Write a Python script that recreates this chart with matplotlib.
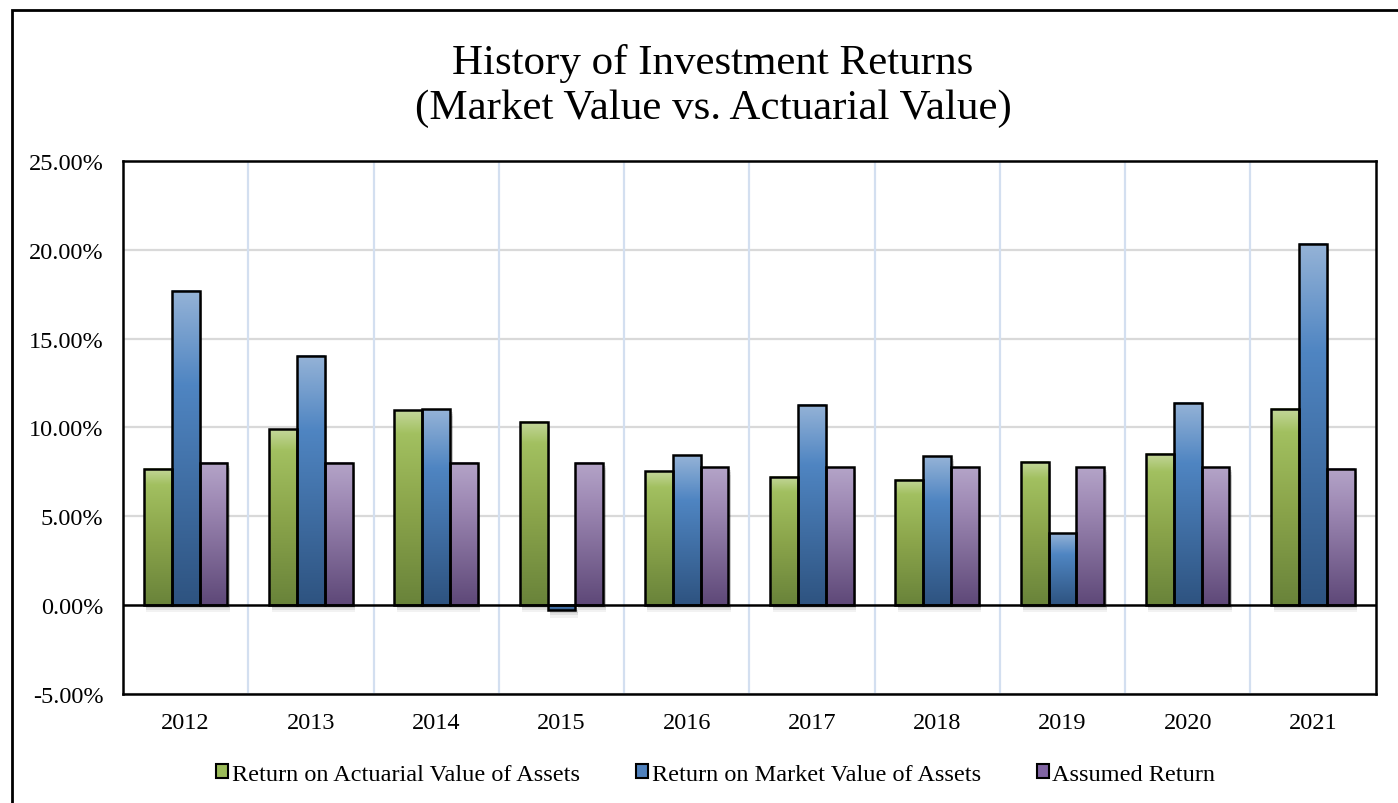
import numpy as np
import matplotlib
matplotlib.use("Agg")
import matplotlib.pyplot as plt
from matplotlib.colors import LinearSegmentedColormap
from matplotlib.patches import Rectangle, Patch
from matplotlib.ticker import FuncFormatter, MultipleLocator

plt.rcParams['font.family'] = ['Liberation Serif', 'DejaVu Serif']

# data
years = ['2012', '2013', '2014', '2015', '2016', '2017', '2018', '2019', '2020', '2021']
actuarial = [7.66, 9.89, 10.96, 10.30, 7.53, 7.22, 7.04, 8.05, 8.50, 11.04]
market = [17.70, 14.02, 11.02, -0.30, 8.43, 11.26, 8.37, 4.04, 11.37, 20.34]
assumed = [8.00, 8.00, 8.00, 8.00, 7.75, 7.75, 7.75, 7.75, 7.75, 7.67]

names = ['Return on Actuarial Value of Assets', 'Return on Market Value of Assets', 'Assumed Return']
series = [actuarial, market, assumed]
# gradient stops, top -> bottom
grads = [
    [(0, '#c4d79b'), (0.12, '#a2c060'), (0.5, '#8ba54b'), (1, '#69833a')],
    [(0, '#95b3d7'), (0.3, '#4f85c2'), (1, '#2e5380')],
    [(0, '#b4a4c8'), (0.3, '#9d88b3'), (1, '#5e4878')],
]
legend_cols = ['#9bbb59', '#4f81bd', '#8064a2']

fig = plt.figure(figsize=(13.98, 8.04), dpi=100)
ax = fig.add_axes([0.088, 0.1356, 0.896, 0.663])

n = len(years)
x = np.arange(n)
w = 1 / 4.5

grad = np.linspace(0, 1, 256).reshape(-1, 1)
for k, vals in enumerate(series):
    cmap = LinearSegmentedColormap.from_list('g%d' % k, grads[k])
    for i, v in enumerate(vals):
        x0 = x[i] + (k - 1) * w - w / 2
        lo, hi = min(0, v), max(0, v)
        # soft shadow
        for s, a in [(0.4, 0.05), (0.28, 0.07), (0.16, 0.09)]:
            ax.add_patch(Rectangle((x0 + 0.02, lo - s), w, hi - lo, facecolor='black',
                                   edgecolor='none', alpha=a, zorder=2))
        ax.imshow(grad, cmap=cmap, extent=[x0, x0 + w, lo, hi], aspect='auto',
                  origin='upper', zorder=3, interpolation='bilinear')
        ax.add_patch(Rectangle((x0, lo), w, hi - lo, facecolor='none',
                               edgecolor='black', linewidth=1.8, zorder=4))

ax.set_xlim(-0.5, n - 0.5)
ax.set_ylim(-5, 25)
ax.yaxis.set_major_locator(MultipleLocator(5))
ax.yaxis.set_major_formatter(FuncFormatter(lambda v, p: '%.2f%%' % v))
ax.set_xticks(x)
ax.set_xticklabels(years)
ax.tick_params(axis='both', length=0, labelsize=17.5)
ax.tick_params(axis='x', pad=13)
ax.tick_params(axis='y', pad=14)

for yv in range(-5, 26, 5):
    if yv != 0:
        ax.axhline(yv, color='#d9d9d9', linewidth=1.6, zorder=1)
for xb in np.arange(0.5, n - 0.5, 1):
    ax.axvline(xb, color='#d3dff0', linewidth=1.6, zorder=1)
ax.axhline(0, color='black', linewidth=1.8, zorder=5)

for sp in ax.spines.values():
    sp.set_linewidth(1.8)
    sp.set_color('black')
    sp.set_zorder(6)

fig.text(0.51, 0.893, 'History of Investment Returns\n(Market Value vs. Actuarial Value)',
         ha='center', va='center', fontsize=31, linespacing=1.25)

handles = [Patch(facecolor=c, edgecolor='black', linewidth=1.5) for c in legend_cols]
fig.legend(handles, names, loc='center', bbox_to_anchor=(0.512, 0.036), ncol=3,
           frameon=False, fontsize=17.5, handlelength=0.5, handleheight=0.5,
           handletextpad=0.15, columnspacing=2.3)

# outer chart frame
fig.add_artist(Rectangle((12 / 1398, -0.05), 1.1, 1 - 11 / 804 + 0.05, transform=fig.transFigure,
                         facecolor='none', edgecolor='black', linewidth=2))

fig.savefig('out.png', dpi=100)
